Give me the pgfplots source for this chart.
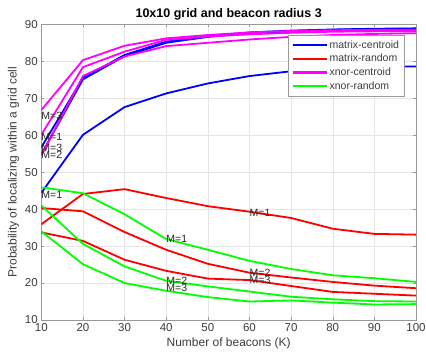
\documentclass[border=0pt]{standalone}
\usepackage{fontspec}
\setmainfont{Liberation Sans}
\usepackage{pgfplots}
\pgfplotsset{compat=1.18}
\definecolor{tickgray}{RGB}{60,60,60}
\definecolor{mblue}{RGB}{0,0,255}
\definecolor{mred}{RGB}{255,0,0}
\definecolor{mmag}{RGB}{255,0,255}
\definecolor{mgreen}{RGB}{0,255,0}
\begin{document}
\begin{tikzpicture}[x=1pt,y=1pt]
\begin{axis}[
  at={(41.3pt,37pt)},
  scale only axis,
  width=374.7pt, height=295.7pt,
  xmin=10, xmax=100, ymin=10, ymax=90,
  xtick={10,20,...,100}, ytick={10,20,...,90},
  tick align=inside,
  major tick length=3pt,
  grid=major,
  major grid style={draw=black!10, line width=0.4pt},
  axis line style={draw=black!40, line width=0.6pt},
  tick style={draw=black!40},
  ticklabel style={font=\fontsize{11.5}{11.5}\selectfont, text=tickgray},
  /pgf/number format/assume math mode=true,
  title={\textbf{10x10 grid and beacon radius 3}},
  title style={font=\fontsize{12.5}{12.5}\selectfont, yshift=-5pt},
  xlabel={Number of beacons (K)},
  ylabel={Probability of localizing within a grid cell},
  label style={font=\fontsize{12}{12}\selectfont, text=tickgray},
  xlabel style={yshift=1pt},
  ylabel style={yshift=-1pt},
  legend style={at={(0.97,0.964)}, anchor=north east, font=\fontsize{10.5}{10.5}\selectfont,
    draw=black!40, fill=white, row sep=0.5pt, inner sep=3.5pt, text=tickgray},
  legend cell align=left,
  legend image code/.code={\draw[#1, line width=2.2pt] (0pt,0pt) -- (34pt,0pt);},
  every axis plot/.append style={line width=1.8pt},
]
% matrix-centroid (blue)
\addplot[mblue] coordinates {(10,44.4) (20,60.1) (30,67.6) (40,71.3) (50,74.0) (60,76.0) (70,77.3) (80,78.2) (90,78.6) (100,78.6)};
\addlegendentry{matrix-centroid}
\addplot[mblue, forget plot] coordinates {(10,56.7) (20,75.5) (30,81.7) (40,85.3) (50,86.8) (60,87.8) (70,88.3) (80,88.6) (90,88.8) (100,88.9)};
\addplot[mblue, forget plot] coordinates {(10,54.8) (20,75.1) (30,81.4) (40,85.0) (50,86.6) (60,87.6) (70,88.1) (80,88.5) (90,88.7) (100,88.8)};
% matrix-random (red)
\addplot[mred] coordinates {(10,35.9) (20,44.1) (30,45.4) (40,43.0) (50,40.8) (60,39.3) (70,37.6) (80,34.7) (90,33.3) (100,33.1)};
\addlegendentry{matrix-random}
\addplot[mred, forget plot] coordinates {(10,40.3) (20,39.4) (30,33.8) (40,29.0) (50,25.2) (60,22.8) (70,21.5) (80,20.3) (90,19.3) (100,18.6)};
\addplot[mred, forget plot] coordinates {(10,33.7) (20,31.4) (30,26.3) (40,23.3) (50,21.2) (60,20.8) (70,19.2) (80,17.6) (90,17.1) (100,16.6)};
% xnor-centroid (magenta)
\addplot[mmag] coordinates {(10,66.8) (20,80.3) (30,84.2) (40,86.2) (50,87.1) (60,87.8) (70,88.2) (80,88.4) (90,88.5) (100,88.5)};
\addlegendentry{xnor-centroid}
\addplot[mmag, forget plot] coordinates {(10,60.1) (20,78.4) (30,82.6) (40,85.8) (50,86.7) (60,87.3) (70,87.7) (80,88.0) (90,88.1) (100,88.2)};
\addplot[mmag, forget plot] coordinates {(10,54.5) (20,76.0) (30,81.3) (40,84.1) (50,85.0) (60,85.9) (70,86.6) (80,87.1) (90,87.4) (100,87.6)};
% xnor-random (green)
\addplot[mgreen] coordinates {(10,45.9) (20,44.3) (30,38.6) (40,31.9) (50,29.0) (60,26.0) (70,23.8) (80,22.1) (90,21.3) (100,20.3)};
\addlegendentry{xnor-random}
\addplot[mgreen, forget plot] coordinates {(10,41.0) (20,30.6) (30,24.5) (40,20.6) (50,19.1) (60,17.7) (70,16.3) (80,15.6) (90,15.1) (100,15.0)};
\addplot[mgreen, forget plot] coordinates {(10,34.0) (20,25.1) (30,20.0) (40,17.9) (50,16.2) (60,15.0) (70,15.3) (80,14.7) (90,14.2) (100,14.3)};
% labels
\begin{scope}[every node/.style={anchor=west, inner sep=0pt, font=\fontsize{10.5}{10.5}\selectfont, text=black!85}]
\node at (axis cs:10,65.3) {M=3};
\node at (axis cs:10,59.6) {M=1};
\node at (axis cs:10,56.6) {M=3};
\node at (axis cs:10,54.6) {M=2};
\node at (axis cs:10,43.9) {M=1};
\node at (axis cs:40,32.0) {M=1};
\node at (axis cs:40,20.6) {M=2};
\node at (axis cs:40,18.7) {M=3};
\node at (axis cs:60,39.0) {M=1};
\node at (axis cs:60,22.8) {M=2};
\node at (axis cs:60,20.8) {M=3};
\end{scope}
\end{axis}
\pgfresetboundingbox
\path[use as bounding box] (0,0) rectangle (426,357);
\end{tikzpicture}
\end{document}
